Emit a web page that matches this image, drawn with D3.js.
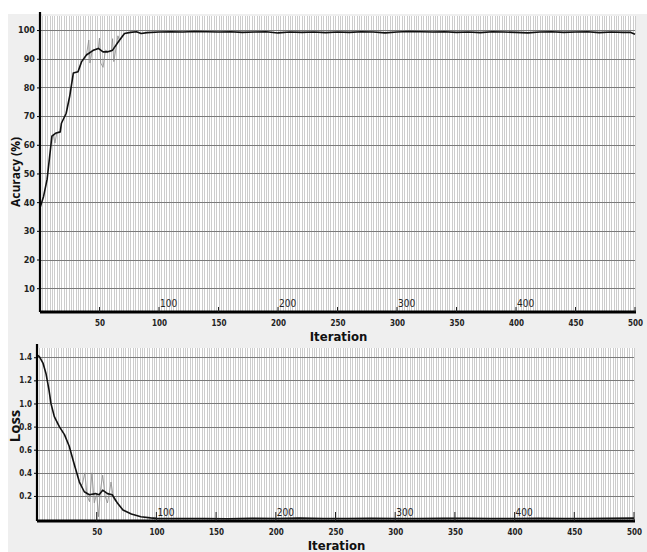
<!DOCTYPE html>
<html>
<head>
<meta charset="utf-8">
<script src="https://cdn.jsdelivr.net/npm/d3@7/dist/d3.min.js"></script>
<style>
  body { margin: 0; background: #ffffff; }
  svg { display: block; }
</style>
</head>
<body>
<svg width="647" height="552"></svg>
<script>
// accuracy (smoothed)
const accIter = [0, 3, 6, 10, 13, 17, 18, 22, 25, 28, 32, 35, 39, 45, 49, 53, 57, 61, 66, 71, 76, 81, 85, 90,
  100, 110, 120, 130, 140, 150, 160, 170, 180, 190, 200, 210, 220, 230, 240, 250, 260, 270, 280, 290,
  300, 310, 320, 330, 340, 350, 360, 370, 380, 390, 400, 410, 420, 430, 440, 450, 460, 470, 480, 490, 496, 500]
const accVal = [38, 42, 48, 63, 64, 64.5, 67.5, 71, 77, 85, 85.5, 89, 91.3, 93, 93.6, 92.4, 92.4, 93, 96, 98.8, 99.2, 99.4, 98.8, 99.1,
  99.3, 99.4, 99.3, 99.5, 99.4, 99.3, 99.4, 99.2, 99.3, 99.4, 99.0, 99.3, 99.2, 99.3, 99.1, 99.3, 99.2, 99.4, 99.3, 99.0,
  99.3, 99.5, 99.4, 99.3, 99.4, 99.2, 99.3, 99.1, 99.4, 99.3, 99.2, 99.0, 99.3, 99.4, 99.2, 99.3, 99.4, 99.1, 99.3, 99.2, 99.2, 98.5]
// accuracy (raw, noisy part)
const accRawIter = [10, 11, 12.6, 14]
const accRawVal = [63, 63.5, 60.6, 64]
const accRaw2Iter = [39, 41, 42, 44, 47, 49, 50, 51, 53, 55, 58, 60, 61, 62, 64, 65.5, 67]
const accRaw2Val = [91.3, 96.5, 88.5, 93, 93.4, 93.5, 97.2, 88.5, 87, 93, 92.4, 92.5, 97, 89, 94, 98, 96]

// loss (smoothed)
const lossIter = [0, 2, 5, 7.5, 10, 11.7, 14.5, 18.7, 23, 27, 31, 35.5, 39.6, 43.8, 49, 52, 55, 59, 63, 67.5, 72, 79, 87, 95,
  100, 120, 140, 160, 180, 200, 220, 240, 260, 280, 300, 320, 340, 360, 380, 400, 420, 440, 460, 480, 500]
const lossVal = [1.42, 1.405, 1.35, 1.26, 1.12, 1.0, 0.886, 0.80, 0.73, 0.63, 0.48, 0.32, 0.236, 0.21, 0.22, 0.21, 0.25, 0.22, 0.21, 0.136, 0.078, 0.043, 0.02, 0.01,
  0.006, 0.004, 0.005, 0.003, 0.006, 0.004, 0.008, 0.005, 0.004, 0.006, 0.005, 0.004, 0.006, 0.007, 0.004, 0.005, 0.006, 0.004, 0.005, 0.006, 0.008]
// loss (raw, noisy part)
const lossRawIter = [36, 38, 40, 42, 44, 46, 48, 50, 51.5, 53, 55, 57, 59, 61, 62, 64, 66]
const lossRawVal = [0.3, 0.3, 0.4, 0.2, 0.15, 0.4, 0.14, 0.22, 0.02, 0.24, 0.38, 0.2, 0.14, 0.25, 0.32, 0.18, 0.15]

const xTicks = [50, 100, 150, 200, 250, 300, 350, 400, 450, 500]
const innerTicks = [100, 200, 300, 400]
const accTicks = [10, 20, 30, 40, 50, 60, 70, 80, 90, 100]
const lossTicks = [0.2, 0.4, 0.6, 0.8, 1.0, 1.2, 1.4]

const svg = d3.select('svg')
const tickFont = '"Liberation Sans Narrow", "DejaVu Sans Condensed", sans-serif'

svg.append('rect').attr('x', 8).attr('y', 14).attr('width', 639).attr('height', 538).attr('fill', '#efefef')

const drawPanel = (cfg) => {
    const x = d3.scaleLinear().domain([0, 500]).range([cfg.left, cfg.right])
    const y = d3.scaleLinear().domain(cfg.yDomain).range([cfg.bottom, cfg.top])
    const g = svg.append('g')

    g.append('rect')
        .attr('x', cfg.left).attr('y', cfg.top)
        .attr('width', cfg.right - cfg.left).attr('height', cfg.bottom - cfg.top)
        .attr('fill', '#ffffff')

    // dense vertical grid
    g.append('g').selectAll('line').data(d3.range(2, 501, 2))
        .enter().append('line')
        .attr('x1', d => Math.round(x(d)) + 0.5).attr('x2', d => Math.round(x(d)) + 0.5)
        .attr('y1', cfg.top).attr('y2', cfg.bottom)
        .attr('stroke', '#cdcdcd').attr('stroke-width', 1)

    // horizontal grid
    g.append('g').selectAll('line').data(cfg.yTicks)
        .enter().append('line')
        .attr('x1', cfg.left).attr('x2', cfg.right)
        .attr('y1', d => Math.round(y(d)) + 0.5).attr('y2', d => Math.round(y(d)) + 0.5)
        .attr('stroke', '#7a7a7a').attr('stroke-width', 1)

    // raw noisy traces
    const line = d3.line().x(d => x(d[0])).y(d => y(d[1]))
    cfg.raw.forEach(r => {
        g.append('path')
            .datum(d3.zip(r[0], r[1]))
            .attr('d', line)
            .attr('fill', 'none').attr('stroke', '#8a8a8a').attr('stroke-width', 0.8)
    })

    // main curve
    g.append('path')
        .datum(d3.zip(cfg.xs, cfg.ys))
        .attr('d', line)
        .attr('fill', 'none').attr('stroke', '#111').attr('stroke-width', 1.6)
        .attr('stroke-linejoin', 'round')

    // y axis
    const yAxis = g.append('g')
        .attr('transform', `translate(${cfg.left},0)`)
        .call(d3.axisLeft(y).tickValues(cfg.yTicks).tickSize(3).tickPadding(2).tickFormat(cfg.fmt))
    yAxis.select('.domain').attr('stroke-width', 2.2).attr('d', `M0,${cfg.top - 4}V${cfg.bottom}`)
    yAxis.selectAll('text').attr('font-family', tickFont).attr('font-weight', 'bold')
        .attr('font-size', cfg.tickSize).attr('fill', '#222')

    // x axis
    const xAxis = g.append('g')
        .attr('transform', `translate(0,${cfg.bottom})`)
        .call(d3.axisBottom(x).tickValues(xTicks).tickSize(0).tickPadding(8))
    xAxis.select('.domain').attr('stroke-width', 3.2)
        .attr('d', `M${cfg.left},0H${cfg.right + 1}`)
    xAxis.selectAll('text').attr('font-family', tickFont).attr('font-weight', 'bold')
        .attr('font-size', 8).attr('fill', '#222')

    // small ticks above the axis
    g.append('g').selectAll('line').data(xTicks)
        .enter().append('line')
        .attr('x1', d => x(d)).attr('x2', d => x(d))
        .attr('y1', cfg.bottom - cfg.tickUp).attr('y2', cfg.bottom)
        .attr('stroke', '#222').attr('stroke-width', 1)

    // inner labels above the axis
    g.append('g').selectAll('text').data(innerTicks)
        .enter().append('text')
        .attr('x', d => x(d) + 1).attr('y', cfg.bottom - 5)
        .attr('font-family', tickFont).attr('font-size', 10).attr('fill', '#222')
        .text(d => d)

    svg.append('text')
        .attr('x', (cfg.left + cfg.right) / 2 + 1).attr('y', cfg.bottom + 29)
        .attr('text-anchor', 'middle')
        .attr('font-family', tickFont).attr('font-weight', 'bold').attr('font-size', 13)
        .attr('fill', '#111')
        .text('Iteration')

    svg.append('text')
        .attr('transform', `translate(${cfg.labelX},${cfg.labelY}) rotate(-90)`)
        .attr('text-anchor', 'middle')
        .attr('font-family', '"Open Sans", "DejaVu Sans", sans-serif').attr('font-weight', 'bold')
        .attr('font-size', cfg.labelSize).attr('fill', '#111')
        .text(cfg.label)
}

drawPanel({
    left: 40, right: 635, top: 16, bottom: 312,
    yDomain: [1.7, 104.9], yTicks: accTicks, fmt: d3.format('d'), tickSize: 9,
    xs: accIter, ys: accVal,
    raw: [[accRawIter, accRawVal], [accRaw2Iter, accRaw2Val]],
    tickUp: 5,
    label: 'Acuracy (%)', labelX: 20, labelY: 172, labelSize: 12
})

drawPanel({
    left: 37, right: 634, top: 348, bottom: 521,
    yDomain: [-0.017, 1.48], yTicks: lossTicks, fmt: d3.format('.1f'), tickSize: 8,
    xs: lossIter, ys: lossVal,
    raw: [[lossRawIter, lossRawVal]],
    tickUp: 9,
    label: 'Loss', labelX: 20, labelY: 426, labelSize: 15
})
</script>
</body>
</html>
